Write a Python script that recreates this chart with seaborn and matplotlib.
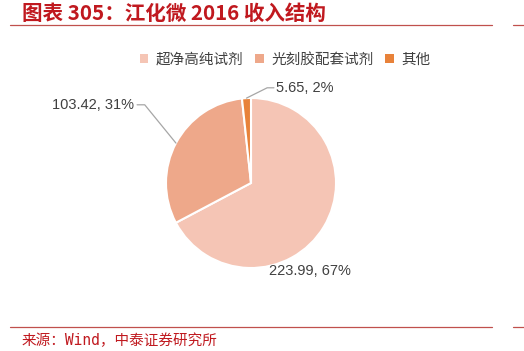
import matplotlib
matplotlib.use("Agg")
import matplotlib.pyplot as plt
import seaborn as sns
import numpy as np
from matplotlib.patches import Patch
from matplotlib.lines import Line2D

# === 数据 ===
categories = ["超净高纯试剂", "光刻胶配套试剂", "其他"]
revenue = [223.99, 103.42, 5.65]
pct_labels = ["67%", "31%", "2%"]
colors = ["#F5C5B5", "#EEA88A", "#E8823A"]

title = "图表 305：江化微 2016 收入结构"
source = "来源：Wind，中泰证券研究所"

sns.set_theme(style="white")
plt.rcParams["font.family"] = ["Noto Sans CJK SC", "DejaVu Sans"]

W, H = 524, 351
fig = plt.figure(figsize=(W / 100, H / 100), dpi=100)

# 饼图位置（像素）
cx, cy, r = 251, 183, 85
span = r * 1.6
ax = fig.add_axes([(cx - span) / W, (H - cy - span) / H, 2 * span / W, 2 * span / H])
wedges, _ = ax.pie(revenue, colors=colors, startangle=90, counterclock=False,
                   wedgeprops=dict(edgecolor="white", linewidth=1.5))
ax.set_xlim(-1.6, 1.6)
ax.set_ylim(-1.6, 1.6)
ax.set_aspect("equal")

labels = [f"{v:.2f}, {p}" for v, p in zip(revenue, pct_labels)]
lab_font = dict(family=["Liberation Sans", "DejaVu Sans"], fontsize=10.5, color="#404040")
line_col = "#A6A6A6"

def edge_point(w):
    ang = np.deg2rad((w.theta1 + w.theta2) / 2)
    return np.cos(ang), np.sin(ang)

# 超净高纯试剂 - 无引线
ax.text(0.69, -1.03, labels[0], ha="center", va="center", **lab_font)

# 光刻胶配套试剂
ex, ey = edge_point(wedges[1])
ax.plot([ex, -1.25, -1.34], [ey, 0.92, 0.92], color=line_col, lw=0.9, clip_on=False)
ax.text(-1.38, 0.92, labels[1], ha="right", va="center", **lab_font)

# 其他
ex, ey = edge_point(wedges[2])
ax.plot([ex, 0.19, 0.27], [ey, 1.12, 1.12], color=line_col, lw=0.9, clip_on=False)
ax.text(0.30, 1.12, labels[2], ha="left", va="center", **lab_font)

# 图例
handles = [Patch(facecolor=c, edgecolor="none") for c in colors]
fig.legend(handles, categories, loc="center", bbox_to_anchor=(285 / W, 1 - 60 / H),
           ncol=3, frameon=False, fontsize=10.5, handlelength=0.6, handleheight=0.6,
           handletextpad=0.5, columnspacing=0.8, labelcolor="#404040")

# 标题和来源
fig.text(22 / W, 1 - 13 / H, title, ha="left", va="center", fontsize=14.8,
         fontweight="bold", color="#C0191F")
fig.text(22 / W, 1 - 341 / H, source, ha="left", va="center", fontsize=10.5,
         family=["DejaVu Sans Mono", "Noto Sans CJK SC"], color="#C0191F")

# 红色分隔线
line_c = "#C0504D"
for yy in (25, 327):
    yf = 1 - yy / H
    fig.add_artist(Line2D([10 / W, 492 / W], [yf, yf], color=line_c, lw=0.9))
    fig.add_artist(Line2D([513 / W, 1.0], [yf, yf], color=line_c, lw=0.9))

fig.savefig("out.png", dpi=100)
